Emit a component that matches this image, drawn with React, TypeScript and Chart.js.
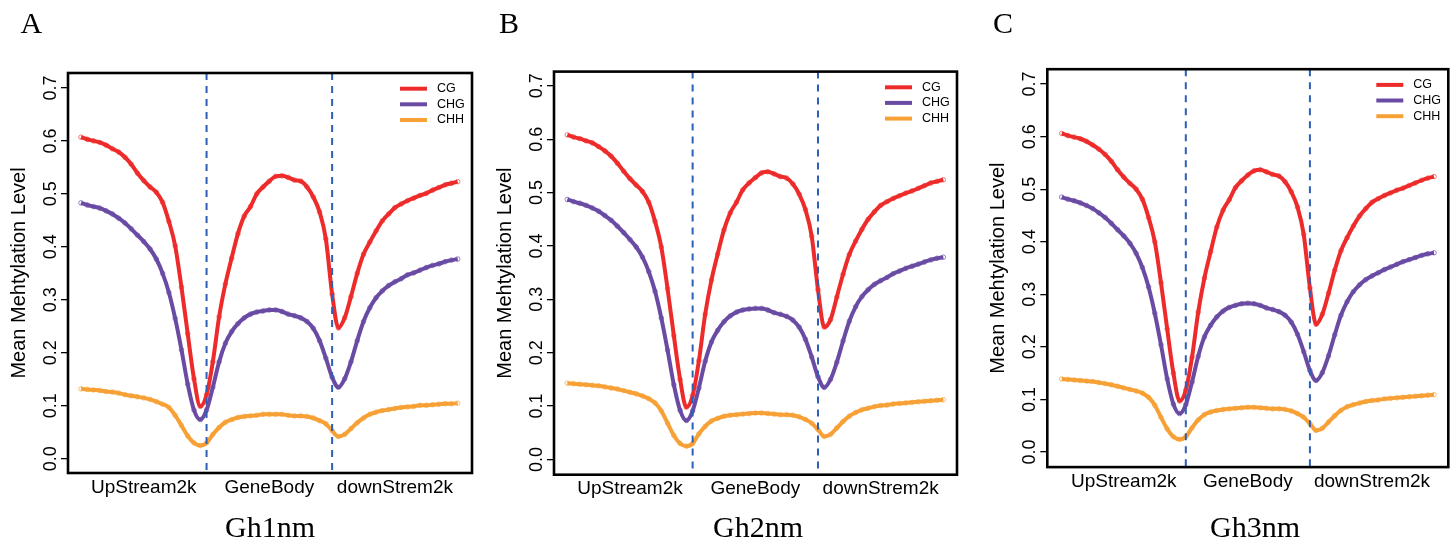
import React, { useEffect, useRef } from "react";
import { Chart, registerables } from "chart.js";

Chart.register(...registerables);

// ---------- data ----------
const xPositions = [
  0, 0.05, 0.1, 0.15, 0.2, 0.25, 0.3, 0.35, 0.4, 0.45,
  0.5, 0.55, 0.6, 0.65, 0.7, 0.75, 0.8, 0.85, 0.9, 0.95,
  1, 1.05, 1.1, 1.15, 1.2, 1.25, 1.3, 1.35, 1.4, 1.45,
  1.5, 1.55, 1.6, 1.65, 1.7, 1.75, 1.8, 1.85, 1.9, 1.95,
  2, 2.05, 2.1, 2.15, 2.2, 2.25, 2.3, 2.35, 2.4, 2.45,
  2.5, 2.55, 2.6, 2.65, 2.7, 2.75, 2.8, 2.85, 2.9, 2.95, 3,
];

const regionLabels = ["UpStream2k", "GeneBody", "downStrem2k"];
const regionLabelPositions = [0.5, 1.5, 2.5];
const boundaryPositions = [1, 2];

const yTickValues = [0, 0.1, 0.2, 0.3, 0.4, 0.5, 0.6, 0.7];
const yTickLabels = ["0.0", "0.1", "0.2", "0.3", "0.4", "0.5", "0.6", "0.7"];
const yAxisTitle = "Mean Mehtylation Level";

const seriesNames = ["CG", "CHG", "CHH"];

// Gh1nm
const cgA = [
  0.607, 0.603, 0.6, 0.597, 0.592, 0.585, 0.579, 0.569, 0.556, 0.539,
  0.525, 0.513, 0.503, 0.484, 0.448, 0.402, 0.324, 0.236, 0.151, 0.099,
  0.121, 0.183, 0.268, 0.33, 0.379, 0.425, 0.458, 0.476, 0.5, 0.513,
  0.524, 0.533, 0.534, 0.531, 0.526, 0.524, 0.513, 0.494, 0.466, 0.415,
  0.311, 0.247, 0.266, 0.306, 0.35, 0.386, 0.409, 0.43, 0.449, 0.462,
  0.474, 0.481, 0.487, 0.492, 0.497, 0.501, 0.507, 0.512, 0.517, 0.52, 0.523,
];
const chgA = [
  0.483, 0.479, 0.476, 0.473, 0.468, 0.462, 0.454, 0.445, 0.434, 0.422,
  0.41, 0.396, 0.377, 0.35, 0.314, 0.265, 0.206, 0.141, 0.092, 0.074,
  0.092, 0.135, 0.183, 0.218, 0.24, 0.255, 0.266, 0.273, 0.277, 0.279,
  0.281, 0.281, 0.278, 0.273, 0.27, 0.266, 0.259, 0.246, 0.223, 0.19,
  0.154, 0.135, 0.151, 0.183, 0.223, 0.259, 0.285, 0.304, 0.317, 0.327,
  0.334, 0.34, 0.347, 0.351, 0.356, 0.361, 0.365, 0.368, 0.372, 0.375, 0.377,
];
const chhA = [
  0.132, 0.131, 0.13, 0.129, 0.127, 0.126, 0.124, 0.121, 0.119, 0.117,
  0.115, 0.112, 0.108, 0.103, 0.097, 0.082, 0.063, 0.043, 0.03, 0.025,
  0.03, 0.046, 0.059, 0.069, 0.074, 0.078, 0.08, 0.081, 0.082, 0.084,
  0.084, 0.084, 0.084, 0.082, 0.081, 0.081, 0.08, 0.077, 0.072, 0.066,
  0.053, 0.042, 0.046, 0.057, 0.068, 0.077, 0.084, 0.088, 0.091, 0.093,
  0.095, 0.097, 0.098, 0.099, 0.101, 0.101, 0.102, 0.103, 0.104, 0.104, 0.105,
];

// Gh2nm
const cgB = [
  0.608, 0.604, 0.601, 0.597, 0.593, 0.586, 0.578, 0.568, 0.555, 0.54,
  0.526, 0.514, 0.502, 0.482, 0.446, 0.398, 0.32, 0.232, 0.15, 0.098,
  0.12, 0.185, 0.272, 0.336, 0.385, 0.43, 0.462, 0.482, 0.505, 0.518,
  0.528, 0.537, 0.539, 0.535, 0.53, 0.527, 0.516, 0.497, 0.468, 0.418,
  0.318, 0.248, 0.262, 0.304, 0.347, 0.384, 0.409, 0.431, 0.45, 0.464,
  0.476, 0.483, 0.489, 0.494, 0.499, 0.503, 0.508, 0.513, 0.518, 0.521, 0.524,
];
const chgB = [
  0.487, 0.483, 0.48, 0.476, 0.471, 0.465, 0.457, 0.448, 0.437, 0.425,
  0.412, 0.398, 0.379, 0.352, 0.315, 0.265, 0.205, 0.14, 0.092, 0.073,
  0.091, 0.134, 0.184, 0.22, 0.242, 0.258, 0.269, 0.276, 0.28, 0.282,
  0.283, 0.283, 0.28, 0.275, 0.272, 0.268, 0.261, 0.248, 0.225, 0.192,
  0.155, 0.135, 0.15, 0.182, 0.222, 0.259, 0.286, 0.305, 0.318, 0.328,
  0.335, 0.341, 0.348, 0.353, 0.358, 0.362, 0.366, 0.37, 0.374, 0.377, 0.379,
];
const chhB = [
  0.143, 0.142, 0.141, 0.14, 0.139, 0.138, 0.136, 0.134, 0.132, 0.129,
  0.126, 0.123, 0.119, 0.114, 0.106, 0.091, 0.068, 0.045, 0.03, 0.025,
  0.03, 0.048, 0.062, 0.072, 0.077, 0.081, 0.083, 0.084, 0.085, 0.086,
  0.087, 0.087, 0.086, 0.085, 0.084, 0.084, 0.083, 0.08, 0.075, 0.068,
  0.056, 0.043, 0.047, 0.059, 0.071, 0.081, 0.088, 0.093, 0.096, 0.099,
  0.101, 0.102, 0.104, 0.105, 0.106, 0.107, 0.108, 0.109, 0.11, 0.111, 0.112,
];

// Gh3nm
const cgC = [
  0.606, 0.602, 0.599, 0.596, 0.591, 0.584, 0.576, 0.566, 0.553, 0.537,
  0.523, 0.511, 0.5, 0.481, 0.446, 0.4, 0.322, 0.234, 0.15, 0.097,
  0.118, 0.18, 0.266, 0.331, 0.381, 0.428, 0.46, 0.48, 0.503, 0.516,
  0.527, 0.535, 0.537, 0.533, 0.528, 0.525, 0.514, 0.495, 0.466, 0.414,
  0.312, 0.243, 0.262, 0.302, 0.346, 0.383, 0.408, 0.43, 0.449, 0.463,
  0.475, 0.482, 0.488, 0.493, 0.498, 0.502, 0.507, 0.512, 0.517, 0.521, 0.524,
];
const chgC = [
  0.485, 0.481, 0.478, 0.474, 0.469, 0.463, 0.455, 0.446, 0.435, 0.423,
  0.411, 0.397, 0.378, 0.351, 0.314, 0.264, 0.204, 0.139, 0.091, 0.073,
  0.09, 0.133, 0.182, 0.219, 0.241, 0.257, 0.268, 0.275, 0.279, 0.282,
  0.283, 0.282, 0.279, 0.274, 0.271, 0.267, 0.26, 0.247, 0.224, 0.191,
  0.155, 0.136, 0.151, 0.183, 0.223, 0.26, 0.286, 0.305, 0.318, 0.328,
  0.335, 0.341, 0.347, 0.352, 0.357, 0.362, 0.366, 0.37, 0.374, 0.377, 0.379,
];
const chhC = [
  0.139, 0.138, 0.137, 0.136, 0.135, 0.134, 0.132, 0.13, 0.128, 0.125,
  0.122, 0.119, 0.116, 0.112, 0.104, 0.089, 0.066, 0.044, 0.029, 0.024,
  0.029, 0.046, 0.061, 0.071, 0.076, 0.079, 0.081, 0.082, 0.083, 0.084,
  0.085, 0.085, 0.084, 0.083, 0.082, 0.082, 0.081, 0.078, 0.073, 0.066,
  0.054, 0.041, 0.045, 0.057, 0.069, 0.079, 0.086, 0.09, 0.093, 0.096,
  0.098, 0.099, 0.101, 0.102, 0.103, 0.104, 0.105, 0.106, 0.107, 0.108, 0.109,
];

// ---------- style / layout ----------
const LINE_COLORS = ["#EE2B2B", "#6A4BA3", "#F7A035"];
const POINT_COLORS = ["#F26A6A", "#8C76BE", "#F9B862"];
const DASH_COLOR = "#2E5FB6";
const SANS = "'Liberation Sans', Arial, Helvetica, sans-serif";
const SERIF = "'Liberation Serif', 'Times New Roman', serif";
const H = 542;

type PanelCfg = {
  letter: string;
  title: string;
  series: number[][];
  canvasLeft: number;
  canvasWidth: number;
  boxL: number;
  boxR: number;
  boxT: number;
  boxB: number;
  xMin: number;
  xMax: number;
  yMin: number;
  yMax: number;
  letterX: number;
  titleX: number;
};

const panels: PanelCfg[] = [
  {
    letter: "A", title: "Gh1nm", series: [cgA, chgA, chhA],
    canvasLeft: 0, canvasWidth: 485,
    boxL: 68, boxR: 472, boxT: 73, boxB: 473,
    xMin: -0.1035, xMax: 3.114, yMin: -0.0268, yMax: 0.7281,
    letterX: 20.5, titleX: 270,
  },
  {
    letter: "B", title: "Gh2nm", series: [cgB, chgB, chhB],
    canvasLeft: 485, canvasWidth: 485,
    boxL: 554, boxR: 957, boxT: 71.6, boxB: 474.7,
    xMin: -0.106, xMax: 3.109, yMin: -0.0285, yMax: 0.7266,
    letterX: 499, titleX: 758,
  },
  {
    letter: "C", title: "Gh3nm", series: [cgC, chgC, chhC],
    canvasLeft: 970, canvasWidth: 485,
    boxL: 1047.3, boxR: 1448.3, boxT: 69.2, boxB: 467.1,
    xMin: -0.116, xMax: 3.115, yMin: -0.0288, yMax: 0.7283,
    letterX: 993, titleX: 1255,
  },
];

const Y_AXIS_W = 60;
const X_AXIS_H = 40;
const LEGEND_ROWS = [15.7, 31.3, 47];

function makeDecorPlugin(p: PanelCfg) {
  return {
    id: "decor" + p.letter,
    afterDatasetsDraw(chart: any) {
      const { ctx, chartArea: a, scales } = chart;
      ctx.save();
      ctx.strokeStyle = DASH_COLOR;
      ctx.lineWidth = 2;
      ctx.setLineDash([7, 6]);
      boundaryPositions.forEach((b) => {
        const x = scales.x.getPixelForValue(b);
        ctx.beginPath();
        ctx.moveTo(x, a.top);
        ctx.lineTo(x, a.bottom);
        ctx.stroke();
      });
      ctx.setLineDash([]);
      ctx.strokeStyle = "#000";
      ctx.lineWidth = 2.6;
      ctx.strokeRect(a.left, a.top, a.right - a.left, a.bottom - a.top);
      ctx.restore();
    },
    afterDraw(chart: any) {
      const { ctx, chartArea: a, scales } = chart;
      ctx.save();
      // rotated y tick labels
      ctx.fillStyle = "#000";
      ctx.font = `18px ${SANS}`;
      ctx.textAlign = "center";
      ctx.textBaseline = "alphabetic";
      yTickValues.forEach((v, i) => {
        const y = scales.y.getPixelForValue(v);
        ctx.save();
        ctx.translate(a.left - 12.5, y);
        ctx.rotate(-Math.PI / 2);
        ctx.fillText(yTickLabels[i], 0, 0);
        ctx.restore();
      });
      // legend
      ctx.font = `12.5px ${SANS}`;
      ctx.textAlign = "left";
      ctx.textBaseline = "middle";
      seriesNames.forEach((name, i) => {
        const y = a.top + LEGEND_ROWS[i];
        ctx.strokeStyle = LINE_COLORS[i];
        ctx.lineWidth = 4;
        ctx.lineCap = "butt";
        ctx.beginPath();
        ctx.moveTo(a.right - 72, y);
        ctx.lineTo(a.right - 45, y);
        ctx.stroke();
        ctx.fillStyle = "#000";
        ctx.fillText(name, a.right - 35, y);
      });
      // panel letter and title
      ctx.font = `30px ${SERIF}`;
      ctx.textBaseline = "alphabetic";
      ctx.textAlign = "left";
      ctx.fillStyle = "#000";
      ctx.fillText(p.letter, p.letterX - p.canvasLeft, 32.5);
      ctx.textAlign = "center";
      ctx.fillText(p.title, p.titleX - p.canvasLeft, 537);
      ctx.restore();
    },
  };
}

function Panel({ p }: { p: PanelCfg }) {
  const ref = useRef<HTMLCanvasElement | null>(null);
  useEffect(() => {
    const canvas = ref.current;
    if (!canvas) return;
    const localL = p.boxL - p.canvasLeft;
    const localR = p.boxR - p.canvasLeft;

    const lineSets = p.series.map((vals, i) => ({
      label: seriesNames[i],
      data: xPositions.map((x, k) => ({ x, y: vals[k] })),
      borderColor: LINE_COLORS[i],
      backgroundColor: LINE_COLORS[i],
      borderWidth: 4,
      pointRadius: 0,
      cubicInterpolationMode: "monotone" as const,
      fill: false,
      order: 0,
    }));
    const pointSets = p.series.map((vals, i) => ({
      label: seriesNames[i] + " points",
      data: xPositions.map((x, k) => ({ x, y: vals[k] })),
      showLine: false,
      pointRadius: 2.3,
      pointStyle: "circle",
      pointBorderWidth: 0.9,
      pointBorderColor: POINT_COLORS[i],
      pointBackgroundColor: "rgba(0,0,0,0)",
      borderColor: POINT_COLORS[i],
      order: 1,
    }));

    const chart = new Chart(canvas, {
      type: "line",
      data: { datasets: [...lineSets, ...pointSets] as any },
      plugins: [makeDecorPlugin(p)],
      options: {
        responsive: false,
        animation: false,
        devicePixelRatio: 1,
        events: [],
        layout: {
          padding: {
            left: localL - Y_AXIS_W,
            right: p.canvasWidth - localR,
            top: p.boxT,
            bottom: H - p.boxB - X_AXIS_H,
          },
        },
        plugins: {
          legend: { display: false },
          title: { display: false },
          tooltip: { enabled: false },
        },
        scales: {
          x: {
            type: "linear",
            position: "bottom",
            min: p.xMin,
            max: p.xMax,
            grid: { display: false, drawTicks: false },
            border: { display: false },
            afterBuildTicks: (scale: any) => {
              scale.ticks = regionLabelPositions.map((v) => ({ value: v }));
            },
            afterFit: (scale: any) => {
              scale.height = X_AXIS_H;
            },
            ticks: {
              autoSkip: false,
              maxRotation: 0,
              minRotation: 0,
              padding: 3,
              color: "#000",
              font: { family: SANS, size: 19 },
              callback: (_v: any, i: number) => regionLabels[i],
            },
          },
          y: {
            type: "linear",
            position: "left",
            min: p.yMin,
            max: p.yMax,
            grid: {
              display: true,
              drawOnChartArea: false,
              drawTicks: true,
              tickLength: 7,
              color: "#000",
              lineWidth: 1.3,
            },
            border: { display: false },
            afterBuildTicks: (scale: any) => {
              scale.ticks = yTickValues.map((v) => ({ value: v }));
            },
            afterFit: (scale: any) => {
              scale.width = Y_AXIS_W;
            },
            ticks: { display: false },
            title: {
              display: true,
              text: yAxisTitle,
              color: "#000",
              font: { family: SANS, size: 20 },
              padding: { top: -1, bottom: 0 },
            },
          },
        },
      } as any,
    });
    return () => chart.destroy();
  }, [p]);

  return (
    <canvas
      ref={ref}
      width={p.canvasWidth}
      height={H}
      style={{
        position: "absolute",
        left: p.canvasLeft,
        top: 0,
        width: p.canvasWidth,
        height: H,
      }}
    />
  );
}

export default function App() {
  return (
    <div
      style={{
        position: "absolute",
        left: 0,
        top: 0,
        width: 1455,
        height: H,
        background: "#fff",
        overflow: "hidden",
      }}
    >
      {panels.map((p) => (
        <Panel key={p.letter} p={p} />
      ))}
    </div>
  );
}
